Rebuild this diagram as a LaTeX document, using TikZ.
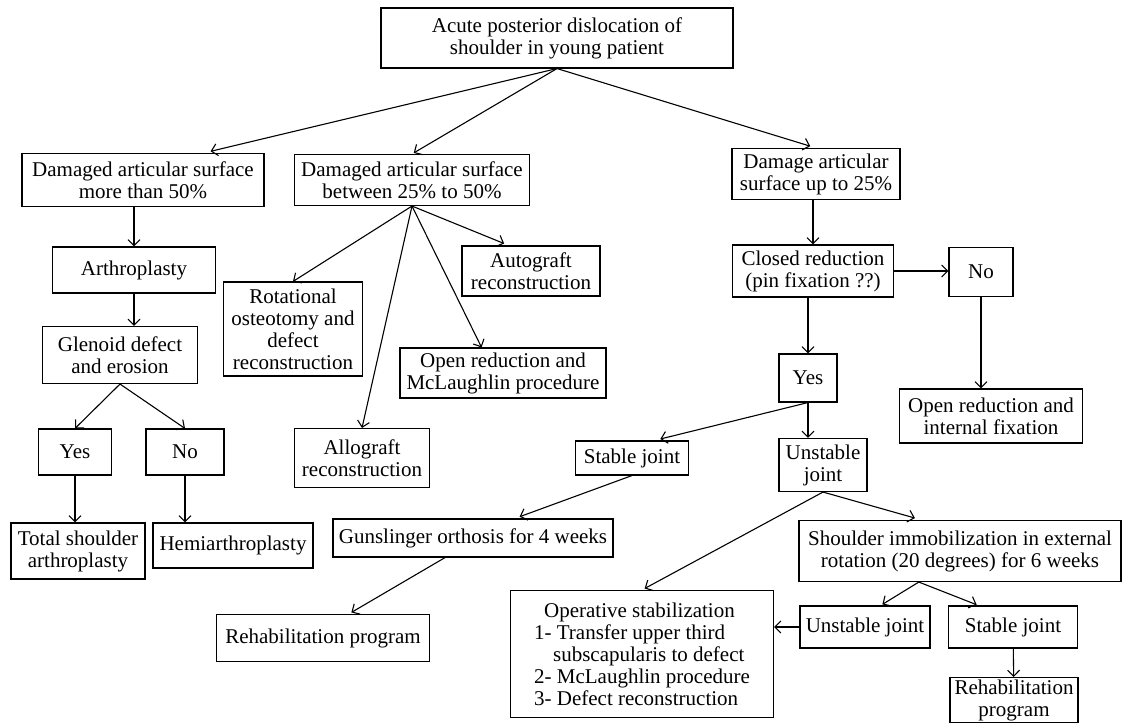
\documentclass[tikz,border=0pt]{standalone}
\usepackage{fontspec}
\setmainfont{Liberation Serif}
\usetikzlibrary{arrows.meta}

\begin{document}
\begin{tikzpicture}[x=1pt, y=-1pt, nodes=rectangle, nodes=draw, nodes={align=center, inner sep=1pt}, font=\fontsize{21}{22}\selectfont, line width=1.1pt, >={Straight Barb[length=6pt, width=12pt]}]
	\useasboundingbox (0, 0) rectangle (1124, 723);

	\node[minimum width=352pt, minimum height=60pt] (top) at (557, 38) {Acute posterior dislocation of\\shoulder in young patient};
	\node[minimum width=242pt, minimum height=53pt] (gt50) at (143, 180) {Damaged articular surface\\more than 50\%};
	\node[minimum width=235pt, minimum height=51pt] (mid25) at (412, 180) {Damaged articular surface\\between 25\% to 50\%};
	\node[minimum width=168pt, minimum height=51pt] (lt25) at (816, 174) {Damage articular\\surface up to 25\%};

	% left branch
	\node[minimum width=163pt, minimum height=46pt] (arth) at (134, 270) {Arthroplasty};
	\node[minimum width=155pt, minimum height=57pt] (glen) at (120, 355) {Glenoid defect\\and erosion};
	\node[minimum width=73pt, minimum height=46pt] (yesg) at (75, 452) {Yes};
	\node[minimum width=78pt, minimum height=46pt] (nog) at (185, 452) {No};
	\node[minimum width=134pt, minimum height=56pt] (tsa) at (78, 551) {Total shoulder\\arthroplasty};
	\node[minimum width=160pt, minimum height=45pt] (hemi) at (233, 545.5) {Hemiarthroplasty};

	% middle branch
	\node[minimum width=139pt, minimum height=94pt] (rot) at (293, 329) {Rotational\\osteotomy and\\defect\\reconstruction};
	\node[minimum width=138pt, minimum height=50pt] (auto) at (531, 271) {Autograft\\reconstruction};
	\node[minimum width=206pt, minimum height=50pt] (omcl) at (503, 373) {Open reduction and\\McLaughlin procedure};
	\node[minimum width=135pt, minimum height=59pt] (allo) at (362, 458) {Allograft\\reconstruction};

	% right branch
	\node[minimum width=161pt, minimum height=52pt] (cred) at (813, 271) {Closed reduction\\(pin fixation ??)};
	\node[minimum width=64pt, minimum height=49pt] (nocr) at (981, 272) {No};
	\node[minimum width=183pt, minimum height=54pt] (orif) at (991, 416) {Open reduction and\\internal fixation};
	\node[minimum width=58pt, minimum height=48pt] (yescr) at (808, 378) {Yes};
	\node[minimum width=113pt, minimum height=34pt] (stab) at (632, 458) {Stable joint};
	\node[minimum width=88pt, minimum height=53pt] (unst) at (823, 465) {Unstable\\joint};
	\node[minimum width=280pt, minimum height=38pt] (guns) at (473, 538) {Gunslinger orthosis for 4 weeks};
	\node[minimum width=213pt, minimum height=47pt] (rehab) at (323, 638) {Rehabilitation program};
	\node[minimum width=322pt, minimum height=61pt] (immo) at (960, 551) {Shoulder immobilization in external\\rotation (20 degrees) for 6 weeks};
	\node[minimum width=263pt, minimum height=127pt, align=left] (oper) at (642, 654) {\hspace*{10pt}Operative stabilization\\1- Transfer upper third\\\hspace*{19pt}subscapularis to defect\\2- McLaughlin procedure\\3- Defect reconstruction};
	\node[minimum width=130pt, minimum height=42pt] (unst2) at (865, 627) {Unstable joint};
	\node[minimum width=129pt, minimum height=42pt] (stab2) at (1013, 627) {Stable joint};
	\node[minimum width=128pt, minimum height=45pt] (rehab2) at (1014, 700) {Rehabilitation\\program};

	\draw[->, shorten >=7pt] (top.south) to (gt50.24);
	\draw[->, shorten >=2pt] (top.south) to (mid25.north);
	\draw[->, shorten >=6pt] (top.south) to (lt25.north);

	\draw[->] (arth.north |- gt50.south) to (arth.north);
	\draw[->] (arth.south) to (arth.south |- glen.north);
	\draw[->] (glen.south) to (yesg.north);
	\draw[->] (glen.south) to (nog.north);
	\draw[->] (yesg.south) to (yesg.south |- tsa.north);
	\draw[->] (nog.south) to (nog.south |- hemi.north);

	\draw[->] (mid25.south) to (rot.north);
	\draw[->] (mid25.south) to (allo.north);
	\draw[->] (mid25.south) to (omcl.130);
	\draw[->, shorten >=5pt] (mid25.south) to (auto.131);

	\draw[->] (cred.north |- lt25.south) to (cred.north);
	\draw[->] (cred.east) to (cred.east -| nocr.west);
	\draw[->] (nocr.south) to (nocr.south |- orif.north);
	\draw[->] (yescr.north |- cred.south) to (yescr.north);
	\draw[->, shorten >=6pt] (yescr.south) to (stab.38);
	\draw[->] (yescr.south) to (yescr.south |- unst.north);
	\draw[->, shorten >=5pt] (stab.south) to (guns.25);
	\draw[->, shorten >=3pt] (guns.215) to (rehab.43);
	\draw[->, shorten >=7pt] (unst.south) to (immo.141);
	\draw[->, shorten >=3pt] (unst.south) to (oper.north);
	\draw[->, shorten >=2pt] (immo.217) to (unst2.54);
	\draw[->, shorten >=2pt] (immo.217) to (stab2.148);
	\draw[->] (unst2.west) to (unst2.west -| oper.east);
	\draw[->] (stab2) to (rehab2);
\end{tikzpicture}
\end{document}
